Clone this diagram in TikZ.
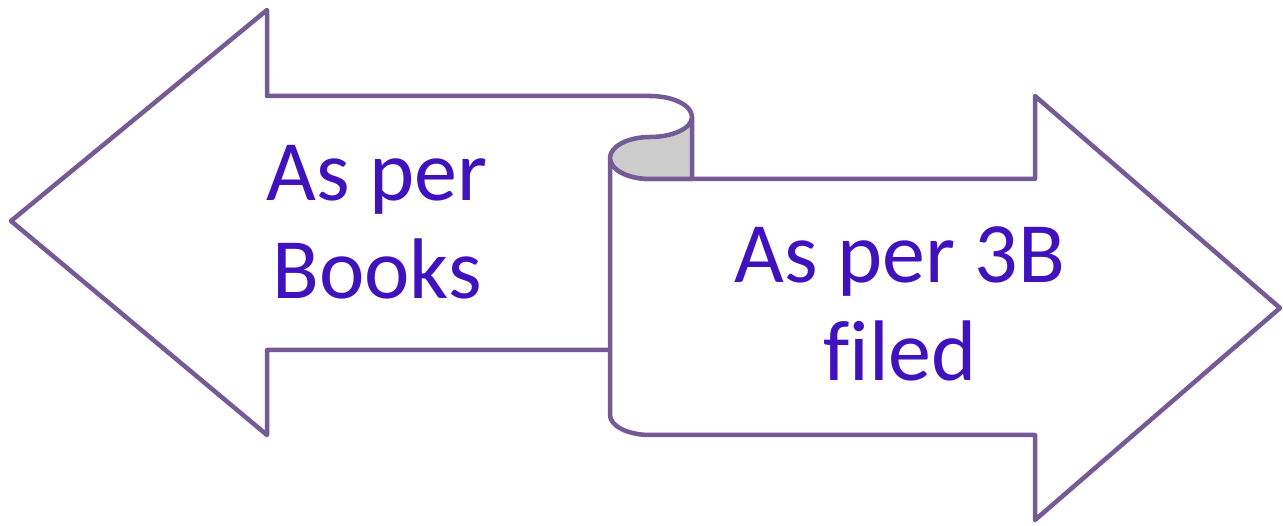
\documentclass[tikz,border=0pt]{standalone}
\usepackage{fontspec}
\setmainfont{Carlito}[Ligatures=CommonOff]
\definecolor{edge}{RGB}{116,91,149}
\definecolor{ink}{RGB}{64,18,190}
\definecolor{curl}{RGB}{204,204,204}
\tikzset{
  outline/.style={draw=edge, line width=4.5pt, line join=round, line cap=round},
  label/.style={text=ink, align=center, font=\fontsize{86}{98}\selectfont, inner sep=0pt}
}
\begin{document}
\begin{tikzpicture}[x=1pt, y=-1pt]
  \useasboundingbox (0,0) rectangle (1283,526);
  % left-pointing arrow, its shaft running under the scroll
  \fill[white] (650,96) -- (267,96) -- (267,10) -- (11,221)
    -- (267,435) -- (267,350) -- (610,350) -- (610,158) -- (650,137) -- cycle;
  \draw[outline] (650,96) -- (267,96) -- (267,10) -- (11,221)
    -- (267,435) -- (267,350) -- (610,350);
  % right-pointing arrow with a rolled-up left end
  \draw[outline, fill=white] (650,179) -- (1035,179) -- (1035,96) -- (1280,308)
    -- (1035,520) -- (1035,435) -- (650,435)
    .. controls (627.9,435) and (610,426) .. (610,415) -- (610,158)
    .. controls (610,169.6) and (627.9,179) .. (650,179) -- cycle;
  % underside of the curl
  \fill[curl] (650,137) .. controls (627.9,137) and (610,146.4) .. (610,158)
    .. controls (610,169.6) and (627.9,179) .. (650,179) -- (692,179) -- (692,117)
    .. controls (692,128) and (673.2,137) .. (650,137) -- cycle;
  \draw[outline] (650,96) .. controls (673.2,96) and (692,105.4) .. (692,117)
    .. controls (692,128) and (673.2,137) .. (650,137)
    .. controls (627.9,137) and (610,146.4) .. (610,158)
    .. controls (610,169.6) and (627.9,179) .. (650,179) -- (692,179) -- (692,117);
  \node[label] (books) at (377,222) {As per\\Books};
  \node[label] (filed) at (900,304) {As per 3B\\filed};
\end{tikzpicture}
\end{document}
